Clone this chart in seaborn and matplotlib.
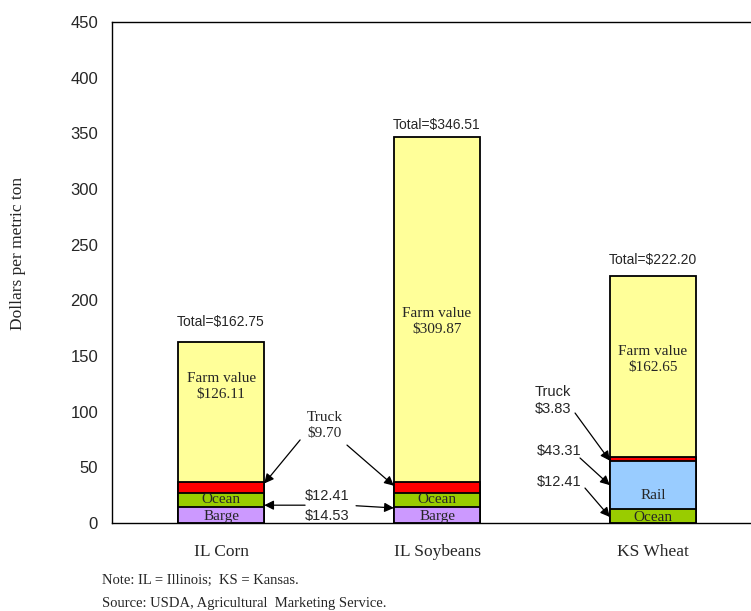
import numpy as np
import pandas as pd
import matplotlib
matplotlib.use("Agg")
import matplotlib.pyplot as plt
import seaborn as sns

# ---- data ----
categories = ["IL Corn", "IL Soybeans", "KS Wheat"]
seg1 = [14.53, 14.53, 12.41]     # Barge / Barge / Ocean
seg2 = [12.41, 12.41, 43.31]     # Ocean / Ocean / Rail
seg3 = [9.70, 9.70, 3.83]        # Truck
seg4 = [126.11, 309.87, 162.65]  # Farm value
totals = [162.75, 346.51, 222.20]
seg1_names = ["Barge", "Barge", "Ocean"]
seg2_names = ["Ocean", "Ocean", "Rail"]
yticks = [0, 50, 100, 150, 200, 250, 300, 350, 400, 450]

C_BARGE = "#CC99FF"
C_OCEAN = "#99CC00"
C_TRUCK = "#FF0000"
C_RAIL = "#99CCFF"
C_FARM = "#FFFF99"

sns.set_style("white")
SANS = ["Liberation Sans", "DejaVu Sans"]
SERIF = ["Liberation Serif", "DejaVu Serif"]

fig = plt.figure(figsize=(7.51, 6.11), dpi=100)
ax = fig.add_axes([112/751, 1-523/611, 649/751, 501/611])

stack = np.cumsum(np.array([seg1, seg2, seg3, seg4]), axis=0)
layer_colors = [
    [C_BARGE, C_BARGE, C_OCEAN],
    [C_OCEAN, C_OCEAN, C_RAIL],
    [C_TRUCK, C_TRUCK, C_TRUCK],
    [C_FARM, C_FARM, C_FARM],
]
# draw from the tallest cumulative layer down so lower layers overwrite
for li in [3, 2, 1, 0]:
    df = pd.DataFrame({"cat": categories, "val": stack[li]})
    sns.barplot(data=df, x="cat", y="val", hue="cat", order=categories,
                hue_order=categories, palette=layer_colors[li], legend=False,
                width=0.4, edgecolor="black", linewidth=1.3, saturation=1,
                ax=ax)

ax.set_xlim(-0.505, 2.5)
ax.set_ylim(0, 450)
ax.set_yticks(yticks)
ax.set_yticklabels([str(t) for t in yticks], fontfamily=SANS, fontsize=12)
ax.set_xticks(range(len(categories)))
ax.set_xticklabels(categories, fontfamily=SERIF, fontsize=12.5)
ax.tick_params(axis="y", length=0, pad=10)
ax.tick_params(axis="x", length=0, pad=15)
ax.set_xlabel("")
ax.set_ylabel("")
for s in ["left", "top", "bottom"]:
    ax.spines[s].set_color("black")
    ax.spines[s].set_linewidth(1.0)
ax.spines["right"].set_visible(False)

fig.text(18/751, 1-253/611, "Dollars per metric ton", rotation=90, ha="center",
         va="center", fontfamily=SERIF, fontsize=12.5)

# totals
total_y = [180.5, 357.5, 236.5]
for i, t in enumerate(totals):
    ax.text(i, total_y[i], f"Total=${t:.2f}", ha="center", va="center",
            fontfamily=SANS, fontsize=10)

# farm value labels
farm_y = [122.4, 180.8, 147]
for i in range(3):
    ax.text(i, farm_y[i], f"Farm value\n${seg4[i]:.2f}", ha="center", va="center",
            fontfamily=SERIF, fontsize=11, linespacing=1.35)

# segment name labels
for i in range(3):
    y1 = seg1[i] / 2 - 1.0
    ax.text(i, y1, seg1_names[i], ha="center", va="center", fontfamily=SERIF, fontsize=11)
lab2_y = [20.7, 20.7, 25.0]
for i in range(3):
    ax.text(i, lab2_y[i], seg2_names[i], ha="center", va="center", fontfamily=SERIF, fontsize=11)

arrow = dict(arrowstyle="-|>", color="black", lw=0.9, mutation_scale=14,
             shrinkA=0, shrinkB=0)

# corn / soybean truck annotation
ax.text(0.48, 88, f"Truck\n${seg3[0]:.2f}", ha="center", va="center",
        fontfamily=SERIF, fontsize=11, linespacing=1.3)
ax.annotate("", xy=(0.2, 35.5), xytext=(0.366, 74.6), arrowprops=arrow)
ax.annotate("", xy=(0.8, 33.5), xytext=(0.583, 70), arrowprops=arrow)

# corn / soybean ocean-barge annotation
ax.text(0.49, 24.5, f"${seg2[0]:.2f}", ha="center", va="center", fontfamily=SANS, fontsize=10.5)
ax.text(0.49, 6.0, f"${seg1[0]:.2f}", ha="center", va="center", fontfamily=SANS, fontsize=10.5)
ax.annotate("", xy=(0.2, 16.0), xytext=(0.389, 16.0), arrowprops=arrow)
ax.annotate("", xy=(0.8, 13.5), xytext=(0.625, 15.5), arrowprops=arrow)

# wheat annotations
ax.text(1.454, 110, f"Truck\n${seg3[2]:.2f}", ha="left", va="center",
        fontfamily=SANS, fontsize=10.5, linespacing=1.25)
ax.annotate("", xy=(1.8, 56.0), xytext=(1.639, 98.8), arrowprops=arrow)
ax.text(1.46, 64.7, f"${seg2[2]:.2f}", ha="left", va="center", fontfamily=SANS, fontsize=10.5)
ax.annotate("", xy=(1.8, 34.0), xytext=(1.662, 58.4), arrowprops=arrow)
ax.text(1.46, 36.8, f"${seg1[2]:.2f}", ha="left", va="center", fontfamily=SANS, fontsize=10.5)
ax.annotate("", xy=(1.8, 5.4), xytext=(1.685, 31.4), arrowprops=arrow)

# notes
fig.text(102/751, 1-580/611, "Note: IL = Illinois;  KS = Kansas.", ha="left", va="center",
         fontfamily=SERIF, fontsize=10.5)
fig.text(102/751, 1-603/611, "Source: USDA, Agricultural  Marketing Service.", ha="left",
         va="center", fontfamily=SERIF, fontsize=10.5)

fig.savefig("out.png", dpi=100)
